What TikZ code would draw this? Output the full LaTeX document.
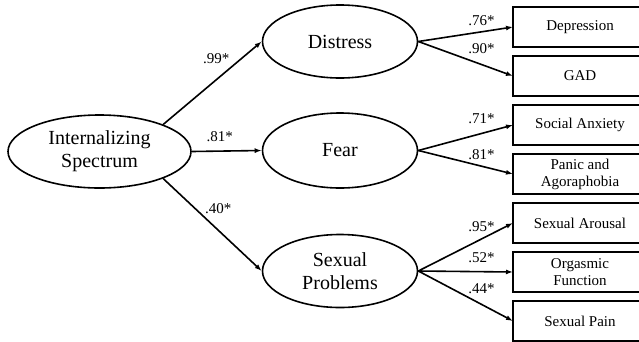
\documentclass[tikz,border=0pt]{standalone}
\usepackage{fontspec}
\setmainfont{Liberation Serif}
\usetikzlibrary{shapes.geometric}
\usetikzlibrary{arrows.meta, positioning}

\begin{document}
\begin{tikzpicture}[
        x=1pt, y=-1pt,
        latent/.style={
            ellipse,
            draw=black,
            line width=1.6pt,
            minimum width=155pt,
            minimum height=73pt,
            inner sep=0pt,
            align=center,
            font=\fontsize{20}{23}\selectfont
        },
        itembox/.style={
            rectangle,
            draw=black,
            line width=1.6pt,
            minimum width=134pt,
            minimum height=39.5pt,
            inner sep=2pt,
            outer sep=0pt,
            align=center,
            font=\fontsize{15}{17}\selectfont
        },
        arrow/.style={
            -{Latex[length=7pt,width=5pt]},
            line width=1.6pt
        },
        loading/.style={
            inner sep=1pt,
            font=\fontsize{15}{17}\selectfont
        }
    ]
    \useasboundingbox (0,0) rectangle (639,341);
    \clip (0,0) rectangle (639,341);

    % Higher-order factor
    \node[latent, minimum width=183pt] (ints) at (99.5,151.5) {Internalizing\\Spectrum};

    % Lower-order factors
    \node[latent] (distress) at (340,41.5) {Distress};
    \node[latent, minimum height=75pt] (fear) at (340,150.5) {Fear};
    \node[latent] (sexprob) at (340,271) {Sexual\\Problems};

    % Observed indicators
    \node[itembox] (dep) at (580,27) {Depression};
    \node[itembox, below=9.5pt of dep] (gad) {GAD};
    \node[itembox, below=9.5pt of gad] (soc) {Social Anxiety};
    \node[itembox, below=9.5pt of soc] (pan) {Panic and\\Agoraphobia};
    \node[itembox, below=9.5pt of pan] (aro) {Sexual Arousal};
    \node[itembox, below=9.5pt of aro] (org) {Orgasmic\\Function};
    \node[itembox, below=9.5pt of org] (pain) {Sexual Pain};

    % Paths from the spectrum
    \draw[arrow] (ints.23) -- node[loading, pos=0.54, above=14pt] {.99*} (distress.west);
    \draw[arrow] (ints.east) -- node[loading, pos=0.4, above=8pt] {.81*} (fear.west);
    \draw[arrow] (ints.-23) -- node[loading, pos=0.56, above=15pt] {.40*} (sexprob.west);

    % Loadings on indicators
    \draw[arrow] (distress.east) -- node[loading, pos=0.667, above=4pt] {.76*} (dep.west);
    \draw[arrow] (distress.east) -- node[loading, pos=0.667, above=9pt] {.90*} (gad.west);
    \draw[arrow] (fear.east) -- node[loading, pos=0.667, above=8pt] {.71*} (soc.west);
    \draw[arrow] (fear.east) -- node[loading, pos=0.667, above=5pt] {.81*} (pan.west);
    \draw[arrow] (sexprob.east) -- node[loading, pos=0.667, above=5pt] {.95*} (aro.west);
    \draw[arrow] (sexprob.east) -- node[loading, pos=0.667, above=7pt] {.52*} (org.west);
    \draw[arrow] (sexprob.east) -- node[loading, pos=0.667, above=9pt] {.44*} (pain.west);

\end{tikzpicture}
\end{document}
